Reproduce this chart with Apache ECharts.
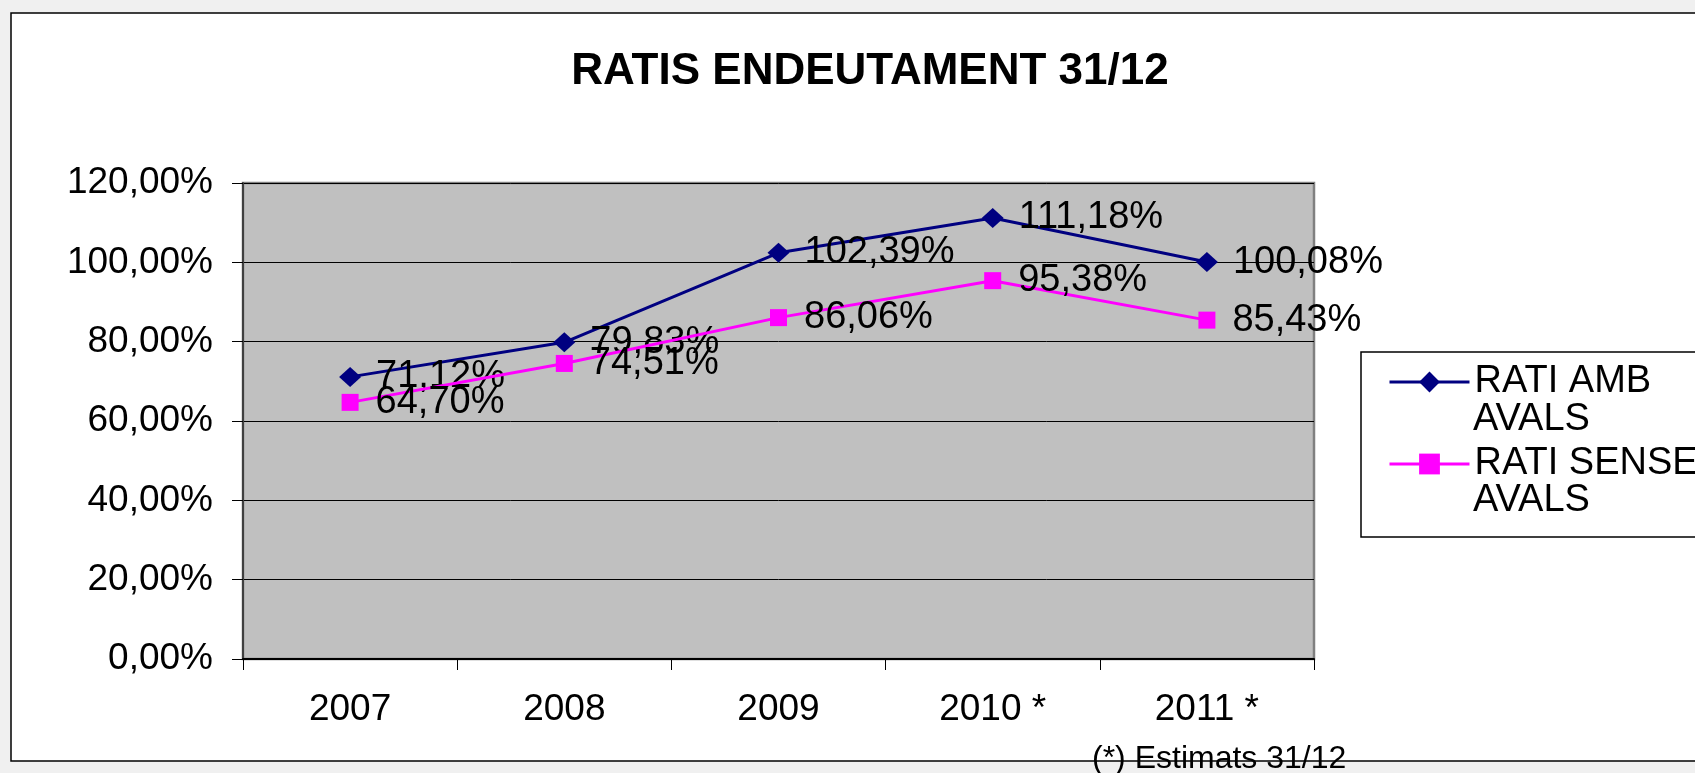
<!DOCTYPE html>
<html>
<head>
<meta charset="utf-8">
<script src="https://cdn.jsdelivr.net/npm/echarts@6/dist/echarts.min.js"></script>
<style>
html,body{margin:0;padding:0;background:#f0f0f0;}
#c{width:1695px;height:773px;}
</style>
</head>
<body>
<div id="c"></div>
<script>
var categories = ['2007', '2008', '2009', '2010 *', '2011 *'];
var ratiAmbAvals = [71.12, 79.83, 102.39, 111.18, 100.08];
var ratiSenseAvals = [64.70, 74.51, 86.06, 95.38, 85.43];
var seriesNames = ['RATI AMB', 'RATI SENSE'];
var titleText = 'RATIS ENDEUTAMENT 31/12';
var footnote = '(*) Estimats 31/12';

var FONT = '"Liberation Sans", Arial, sans-serif';
function pct(v){ return v.toFixed(2).replace('.', ',') + '%'; }

var chart = echarts.init(document.getElementById('c'));
chart.setOption({
  backgroundColor: 'transparent',
  animation: false,
  title: {
    text: titleText,
    left: 865,
    top: 45,
    textAlign: 'center',
    textStyle: {fontFamily: FONT, fontSize: 44, fontWeight: 'bold', color: '#000'}
  },
  graphic: [
    {type: 'rect', z: -100, shape: {x: 11, y: 13, width: 1700, height: 748},
     style: {fill: '#fff', stroke: '#000', lineWidth: 1.5}},
    {type: 'rect', z: 100, shape: {x: 1361, y: 352, width: 400, height: 185},
     style: {fill: '#fff', stroke: '#000', lineWidth: 1.5}},
    {type: 'text', z: 102, x: 1473, y: 420,
     style: {text: 'AVALS', fontFamily: FONT, fontSize: 38, fill: '#000', textVerticalAlign: 'middle'}},
    {type: 'text', z: 102, x: 1473, y: 501,
     style: {text: 'AVALS', fontFamily: FONT, fontSize: 38, fill: '#000', textVerticalAlign: 'middle'}},
    {type: 'text', z: 102, x: 1092, y: 759,
     style: {text: footnote, fontFamily: FONT, fontSize: 32, fill: '#000', textVerticalAlign: 'middle'}}
  ],
  legend: {
    orient: 'vertical',
    left: 1383,
    top: 357,
    z: 101,
    itemWidth: 80,
    itemHeight: 26,
    itemGap: 42,
    lineStyle: {width: 3},
    textStyle: {fontFamily: FONT, fontSize: 38, color: '#000', lineHeight: 40},
    data: seriesNames
  },
  grid: {
    left: 243, right: 381, top: 183, bottom: 114,
    show: true, backgroundColor: '#c0c0c0', borderColor: '#808080', borderWidth: 2.5,
    containLabel: false
  },
  xAxis: {
    type: 'category',
    data: categories,
    boundaryGap: true,
    axisLine: {lineStyle: {color: '#000', width: 2}},
    axisTick: {show: true, length: 11, lineStyle: {color: '#000', width: 1}},
    axisLabel: {fontFamily: FONT, fontSize: 37, color: '#000', margin: 32}
  },
  yAxis: {
    type: 'value',
    min: 0, max: 120, interval: 20,
    axisLine: {show: true, lineStyle: {color: '#404040', width: 2}},
    axisTick: {show: true, length: 11, lineStyle: {color: '#000', width: 1}},
    splitLine: {show: true, lineStyle: {color: '#000', width: 1}},
    axisLabel: {fontFamily: FONT, fontSize: 37, color: '#000', margin: 30,
      formatter: function(v){ return pct(v); }}
  },
  series: [
    {
      name: seriesNames[0], type: 'line', data: ratiAmbAvals,
      symbol: 'diamond', symbolSize: [22, 20],
      lineStyle: {color: '#000080', width: 3},
      itemStyle: {color: '#000080'},
      label: {show: true, position: 'right', distance: 15, fontFamily: FONT, fontSize: 38, color: '#000',
        formatter: function(p){ return pct(p.value); }},
      z: 3
    },
    {
      name: seriesNames[1], type: 'line', data: ratiSenseAvals,
      symbol: 'rect', symbolSize: 17,
      lineStyle: {color: '#ff00ff', width: 3},
      itemStyle: {color: '#ff00ff'},
      label: {show: true, position: 'right', distance: 17, fontFamily: FONT, fontSize: 38, color: '#000',
        formatter: function(p){ return pct(p.value); }},
      z: 4
    }
  ]
});
</script>
</body>
</html>
